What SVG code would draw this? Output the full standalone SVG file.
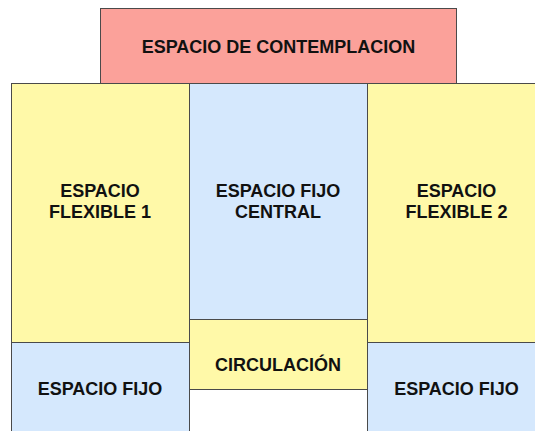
<svg xmlns="http://www.w3.org/2000/svg" width="535" height="431" viewBox="0 0 535 431">
<style>
.box{stroke:#4a4a4a;stroke-width:1}
.pink{fill:#FBA19A}
.yel{fill:#FFF9A8}
.blue{fill:#D5E8FD}
text{font-family:"Liberation Sans",Arial,sans-serif;font-weight:bold;font-size:18px;fill:#111;text-anchor:middle}
</style>
<g id="contemplacion">
<rect class="box pink" x="100.5" y="8.5" width="356" height="75"/>
<text x="278.5" y="52.5">ESPACIO DE CONTEMPLACION</text>
</g>
<g id="flexible1">
<rect class="box yel" x="11.5" y="83.5" width="178" height="259"/>
<text x="100" y="197">ESPACIO</text>
<text x="100" y="218">FLEXIBLE 1</text>
</g>
<g id="fijo-central">
<rect class="box blue" x="189.5" y="83.5" width="178" height="236"/>
<text x="278" y="197">ESPACIO FIJO</text>
<text x="278" y="218">CENTRAL</text>
</g>
<g id="flexible2">
<rect class="box yel" x="367.5" y="83.5" width="180" height="259"/>
<text x="456.5" y="197">ESPACIO</text>
<text x="456.5" y="218">FLEXIBLE 2</text>
</g>
<g id="circulacion">
<rect class="box yel" x="189.5" y="319.5" width="178" height="70"/>
<text x="278" y="370.5">CIRCULACIÓN</text>
</g>
<g id="fijo-izq">
<rect class="box blue" x="11.5" y="342.5" width="178" height="100"/>
<text x="100" y="395">ESPACIO FIJO</text>
</g>
<g id="fijo-der">
<rect class="box blue" x="367.5" y="342.5" width="180" height="100"/>
<text x="456.5" y="395">ESPACIO FIJO</text>
</g>
<g id="connectors"/>
</svg>
